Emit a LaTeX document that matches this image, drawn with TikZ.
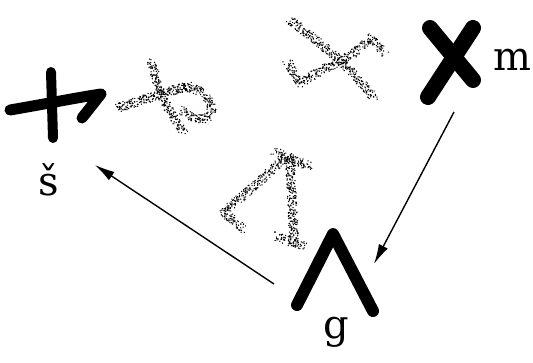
\documentclass[tikz,border=0pt]{standalone}
\usepackage{fontspec}
\setmainfont{DejaVu Serif}
\usetikzlibrary{arrows.meta,decorations.markings}
\tikzset{
  bold/.style={line width=10pt,line cap=round,line join=round},
  speckle/.style={decorate,decoration={markings,
    mark=between positions 0 and 1 step 0.35pt with {\fill[black] (4.5pt*rand,4.5pt*rand) circle (0.75pt);}}},
  label/.style={font=\fontsize{40}{40}\selectfont,inner sep=0pt},
  conn/.style={line width=1.4pt,-{Latex[length=20pt,width=10pt]}}
}
\begin{document}
\begin{tikzpicture}[x=1pt,y=-1pt]
\pgfmathsetseed{7}
\useasboundingbox (0,0) rectangle (533,362);
\draw[bold,line width=11pt] (10,110) .. controls (45,104) and (75,98) .. (101,94) -- (82,118);
\draw[bold] (51,72) -- (53,138);
\path[speckle] (117,108) .. controls (145,100) and (170,90) .. (190,86);
\path[speckle] (152,62) .. controls (156,80) and (160,100) .. (184,132);
\path[speckle] (180,88) .. controls (205,85) and (215,105) .. (210,115) .. controls (205,122) and (190,118) .. (182,110);
\path[speckle] (290,20) .. controls (315,40) and (340,55) .. (374,98);
\path[speckle] (288,62) -- (300,83) -- (322,70) -- (352,55) -- (370,38) -- (384,52);
\draw[bold,line width=16pt] (430,28) -- (473,80);
\draw[bold,line width=16pt] (473,28) -- (428,97);
\node[label] (lm) at (512,60) {m};
\path[speckle] (243,228) -- (223,212) -- (250,190) -- (288,155);
\path[speckle] (276,152) -- (292,160) -- (310,166);
\path[speckle] (290,158) -- (292,200) -- (294,240);
\path[speckle] (277,237) -- (304,246);
\draw[bold,line width=12pt] (297,305) -- (333,234) -- (373,311);
\node[label] (lg) at (336,332) {g};
\node[label] (ls) at (49,180) {š};
\coordinate (m-out) at (454,112);
\coordinate (g-in) at (374,264);
\coordinate (g-out) at (274,284);
\coordinate (s-in) at (95,165);
\draw[conn] (m-out) -- (g-in);
\draw[conn] (g-out) -- (s-in);
\end{tikzpicture}
\end{document}
